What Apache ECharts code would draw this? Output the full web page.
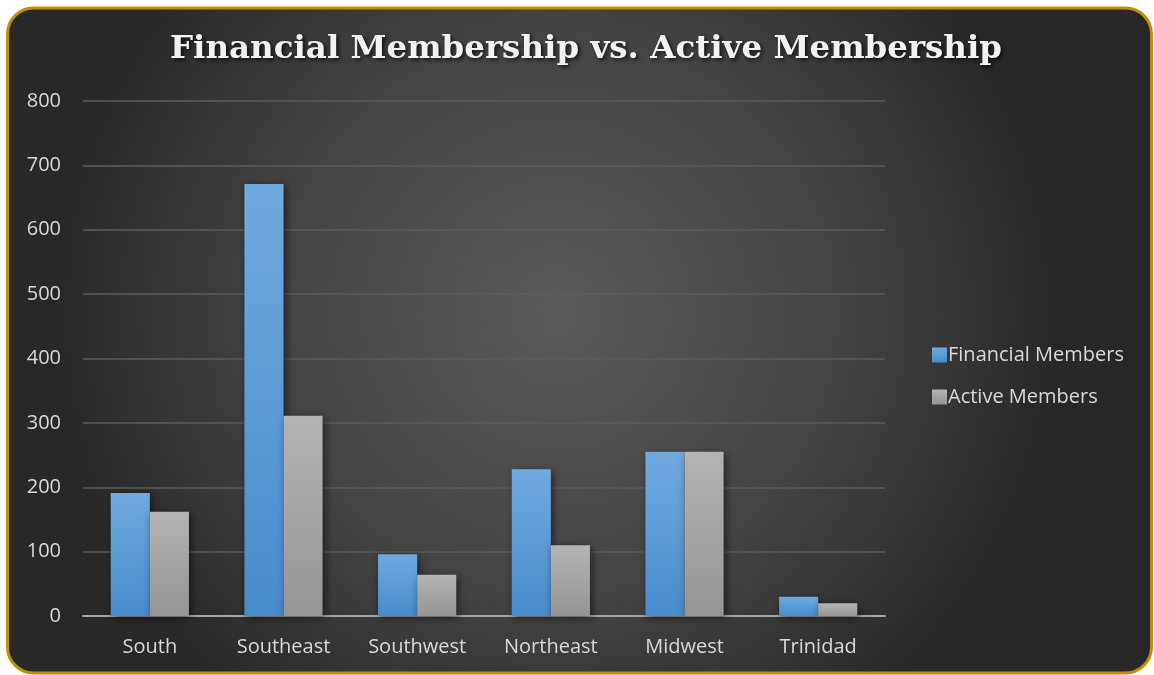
<!DOCTYPE html>
<html>
<head>
<meta charset="utf-8">
<script src="https://cdn.jsdelivr.net/npm/echarts@6/dist/echarts.min.js"></script>
<style>
html,body{margin:0;padding:0;background:#ffffff;}
#c{width:1154px;height:675px;}
</style>
</head>
<body>
<div id="c"></div>
<script>
const categories = ['South', 'Southeast', 'Southwest', 'Northeast', 'Midwest', 'Trinidad'];
const financialMembers = [191, 671, 96, 228, 255, 30];
const activeMembers = [162, 311, 64, 110, 255, 20];
const seriesNames = ['Financial Members', 'Active Members'];
const titleText = 'Financial Membership vs. Active Membership';

const chart = echarts.init(document.getElementById('c'));
const labelFont = '"Open Sans", "Noto Sans", sans-serif';

function vgrad(top, bottom) {
  return new echarts.graphic.LinearGradient(0, 0, 0, 1, [
    {offset: 0, color: top}, {offset: 1, color: bottom}
  ]);
}

chart.setOption({
  animation: false,
  backgroundColor: '#ffffff',
  graphic: {
    z: -100,
    elements: [{
      type: 'rect',
      z: -100,
      silent: true,
      shape: {x: 7.5, y: 8, width: 1144, height: 665, r: 26},
      style: {
        fill: new echarts.graphic.RadialGradient(0.48, 0.46, 0.75, [
          {offset: 0, color: '#5a5a5a'},
          {offset: 0.55, color: '#454545'},
          {offset: 1, color: '#282828'}
        ]),
        stroke: '#bf9000',
        lineWidth: 3
      }
    }]
  },
  title: {
    text: titleText,
    left: 581,
    textAlign: 'center',
    top: 28,
    textStyle: {
      fontFamily: '"DejaVu Serif", serif',
      fontWeight: 'bold',
      fontSize: 32.5,
      color: '#f2f2f2',
      textShadowColor: 'rgba(0,0,0,0.75)',
      textShadowBlur: 4,
      textShadowOffsetX: 2,
      textShadowOffsetY: 2
    }
  },
  legend: {
    orient: 'vertical',
    left: 927,
    top: 340,
    itemWidth: 15,
    itemHeight: 15,
    itemGap: 22,
    icon: 'rect',
    data: seriesNames,
    textStyle: {
      fontFamily: labelFont,
      fontSize: 20,
      color: '#d9d9d9',
      padding: [0, 0, 0, -4]
    }
  },
  grid: {left: 83, right: 269, top: 101, bottom: 59},
  xAxis: {
    type: 'category',
    data: categories,
    axisTick: {show: false},
    axisLine: {lineStyle: {color: '#a6a6a6', width: 2}},
    axisLabel: {
      margin: 21,
      fontFamily: labelFont,
      fontSize: 20,
      color: '#d9d9d9'
    }
  },
  yAxis: {
    type: 'value',
    min: 0,
    max: 800,
    interval: 100,
    axisLine: {show: false},
    axisTick: {show: false},
    splitLine: {lineStyle: {color: '#5c5c5c', width: 1.5}},
    axisLabel: {
      margin: 22,
      fontFamily: labelFont,
      fontSize: 20,
      color: '#d9d9d9'
    }
  },
  series: [{
    name: seriesNames[0],
    type: 'bar',
    data: financialMembers,
    barGap: '0%',
    barCategoryGap: '41.5%',
    itemStyle: {
      color: vgrad('#70a9df', '#478ccc'),
      shadowColor: 'rgba(0,0,0,0.55)',
      shadowBlur: 8,
      shadowOffsetX: 2,
      shadowOffsetY: 2
    }
  }, {
    name: seriesNames[1],
    type: 'bar',
    data: activeMembers,
    itemStyle: {
      color: vgrad('#b4b4b4', '#959595'),
      shadowColor: 'rgba(0,0,0,0.55)',
      shadowBlur: 8,
      shadowOffsetX: 2,
      shadowOffsetY: 2
    }
  }]
});
</script>
</body>
</html>
